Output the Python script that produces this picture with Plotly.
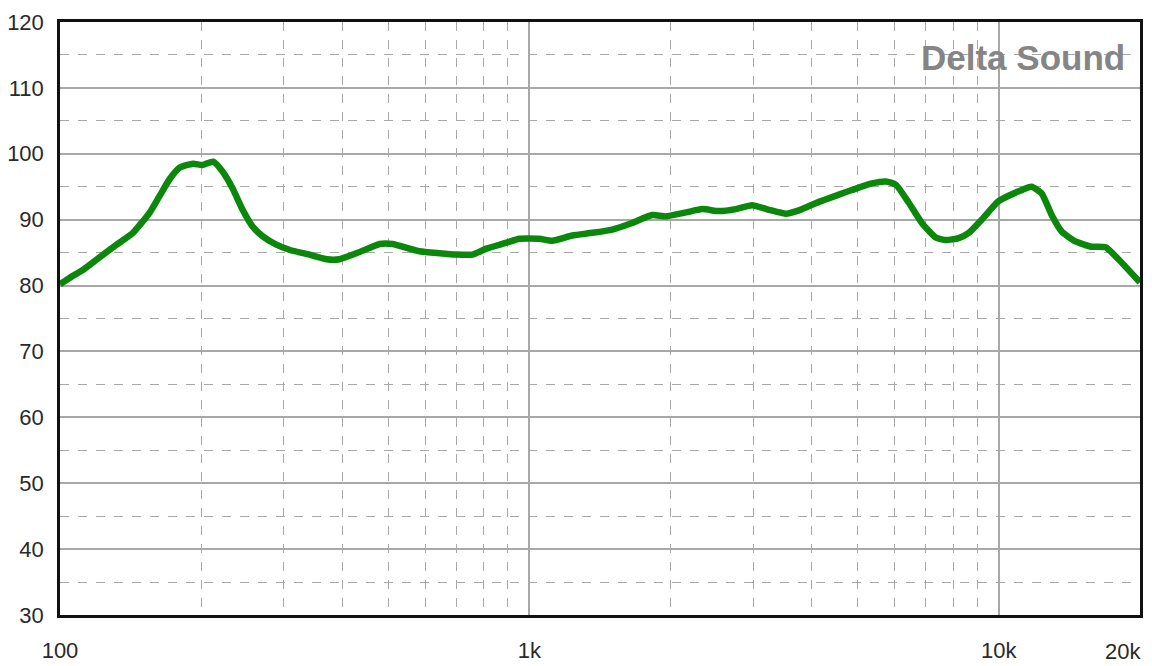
import plotly.graph_objects as go
import math

freq_hz = [100, 105, 112, 122, 132, 143, 155, 163, 171, 180, 192, 201, 212, 222, 233,
           245, 257, 270, 289, 309, 340, 370, 394, 435, 480, 511, 583, 643, 699, 756,
           810, 894, 952, 1050, 1119, 1235, 1362, 1502, 1656, 1827, 1956, 2158, 2334,
           2537, 2756, 2982, 3240, 3523, 3754, 4140, 4566, 4868, 5370, 5750, 6040, 6430,
           6860, 7345, 7715, 8220, 8636, 9200, 10000, 11030, 11750, 12350, 12970, 13620,
           14580, 15770, 16900, 18000, 20000]
spl_db = [80.2, 81.2, 82.4, 84.4, 86.2, 88.0, 91.0, 93.6, 96.1, 97.9, 98.5, 98.3, 98.8,
          97.3, 94.8, 91.5, 89.0, 87.5, 86.2, 85.4, 84.7, 84.0, 84.0, 85.1, 86.3, 86.3,
          85.2, 84.9, 84.7, 84.7, 85.6, 86.5, 87.1, 87.1, 86.8, 87.6, 88.0, 88.5, 89.5,
          90.7, 90.5, 91.1, 91.6, 91.3, 91.6, 92.2, 91.5, 90.9, 91.4, 92.7, 93.8, 94.5,
          95.5, 95.8, 95.3, 92.6, 89.5, 87.3, 86.9, 87.2, 88.0, 90.0, 92.8, 94.3, 95.0,
          94.0, 90.7, 88.2, 86.7, 85.9, 85.8, 84.0, 80.5]

x_major_ticks = [100, 1000, 10000, 20000]
x_major_labels = ["100", "1k", "10k", ""]
x_edge_tick = 20000
x_edge_label = "20k"
x_minor_ticks = [200, 300, 400, 500, 600, 700, 800, 900,
                 2000, 3000, 4000, 5000, 6000, 7000, 8000, 9000]
y_ticks = [30, 40, 50, 60, 70, 80, 90, 100, 110, 120]
watermark = "Delta Sound"

fig = go.Figure()
fig.add_trace(go.Scatter(
    x=freq_hz, y=spl_db, mode="lines",
    line=dict(color="#0b870b", width=6.5, shape="spline", smoothing=0.5),
    showlegend=False, hoverinfo="skip"))

grid_col = "#a8a8a8"
tick_font = dict(family="Liberation Sans, Arial, sans-serif", size=22, color="#2a2a2a")
fig.update_xaxes(
    type="log", range=[2, 4.3012],
    tickvals=x_major_ticks, ticktext=x_major_labels,
    showgrid=True, gridcolor=grid_col, gridwidth=1.5,
    minor=dict(tickvals=x_minor_ticks, showgrid=True, gridcolor=grid_col,
               griddash="dash", gridwidth=1.2, ticks=""),
    showline=True, linecolor="#111", linewidth=2.5, mirror=True,
    ticks="", ticklabelstandoff=14, zeroline=False, automargin=False,
    tickfont=tick_font)
fig.update_yaxes(
    range=[30, 120], tickvals=y_ticks,
    showgrid=True, gridcolor=grid_col, gridwidth=1.5,
    minor=dict(dtick=5, showgrid=True, gridcolor=grid_col,
               griddash="dash", gridwidth=1.2, ticks=""),
    showline=True, linecolor="#111", linewidth=2.5, mirror=True,
    ticks="", ticklabelstandoff=9, zeroline=False, automargin=False,
    ticklabeloverflow="allow", tickfont=tick_font)

# the last x label sits inside the plot edge, as in the reference
fig.add_annotation(
    text=x_edge_label, xref="x", yref="paper", x=math.log10(x_edge_tick), y=0,
    xanchor="center", yanchor="middle", xshift=-17, yshift=-36,
    showarrow=False, borderpad=0, font=tick_font)

fig.add_annotation(
    text=watermark, xref="paper", yref="paper", x=0.988, y=0.94,
    xanchor="right", yanchor="middle", showarrow=False,
    font=dict(family="Liberation Sans, Arial, sans-serif", size=35, color="#858585", weight="bold"))

# browser body has an 8px margin; compensate so the plot area lands where the reference has it
fig.update_layout(
    width=1152, height=666,
    margin=dict(l=52, r=20, t=14, b=59),
    paper_bgcolor="white", plot_bgcolor="white")

fig.write_html("out.html")
